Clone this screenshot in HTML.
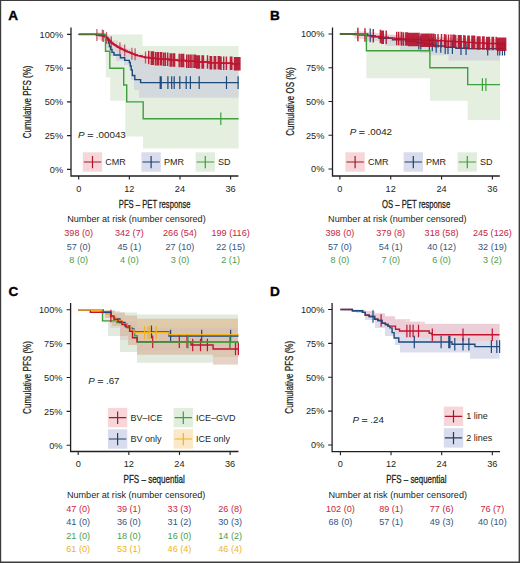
<!DOCTYPE html><html><head><meta charset="utf-8"><style>html,body{margin:0;padding:0;background:#fff}svg{display:block}</style></head><body>
<svg width="520" height="563" viewBox="0 0 520 563" font-family="Liberation Sans, sans-serif">
<rect x="0" y="0" width="520" height="563" fill="#fff"/>
<g id="A">
<polygon points="105.8,34.4 142.5,34.4 142.5,46 238.6,46 238.6,148.5 143,148.5 143,136.5 125.3,136.5 125.3,100.8 110.2,100.8 110.2,77.6 105.8,77.6" fill="#e4efdf" fill-opacity="1.0"/>
<polygon points="104,34.4 108,34.4 108,36 112,36 112,40.5 118,40.5 118,45 124,45 124,48.5 130,48.5 130,52 136,52 136,55 142,55 142,60 148,60 148,64.5 238.6,64.5 238.6,97.8 139,97.8 139,90 134,90 134,80 131,80 131,70 129,70 129,65 124,65 124,61 116,61 116,56 110,56 110,48 107,48 107,38 104,38" fill="#d3d9dc" fill-opacity="1.0"/>
<polygon points="95,33 238.6,33 238.6,36 95,36" fill="#ffffff" fill-opacity="0"/>
<polygon points="95,34.4 96.5,34.4 96.5,31.93 99.5,31.93 99.5,32.47 102.5,32.47 102.5,33 104.5,33 104.5,33.62 105.5,33.62 105.5,34.25 106.5,34.25 106.5,34.88 107.5,34.88 107.5,35.5 108.25,35.5 108.25,36.06 108.75,36.06 108.75,36.62 109.25,36.62 109.25,37.19 109.75,37.19 109.75,37.75 110.25,37.75 110.25,38.31 110.75,38.31 110.75,38.88 111.25,38.88 111.25,39.44 111.75,39.44 111.75,40 112.43,40 112.43,40.57 113.29,40.57 113.29,41.14 114.14,41.14 114.14,41.71 115,41.71 115,42.29 115.86,42.29 115.86,42.86 116.71,42.86 116.71,43.43 117.57,43.43 117.57,44 118.58,44 118.58,44.58 119.75,44.58 119.75,45.17 120.92,45.17 120.92,45.75 122.08,45.75 122.08,46.33 123.25,46.33 123.25,46.92 124.42,46.92 124.42,47.5 125.75,47.5 125.75,48.12 127.25,48.12 127.25,48.75 128.75,48.75 128.75,49.38 130.25,49.38 130.25,50 131.83,50 131.83,50.67 133.5,50.67 133.5,51.33 135.17,51.33 135.17,52 137.25,52 137.25,52.62 139.75,52.62 139.75,53.25 142.25,53.25 142.25,53.88 144.75,53.88 144.75,54.5 149.17,54.5 149.17,55.1 155.5,55.1 155.5,55.7 161.83,55.7 161.83,56.3 169.17,56.3 169.17,56.93 177.5,56.93 177.5,57.57 185.83,57.57 185.83,58.2 196.25,58.2 196.25,58.95 208.75,58.95 208.75,59.7 220.75,59.7 220.75,60.25 232.25,60.25 232.25,60.8 238.6,60.8 238.6,68.3 232.25,68.3 232.25,67.75 220.75,67.75 220.75,67.2 208.75,67.2 208.75,66.45 196.25,66.45 196.25,65.7 185.83,65.7 185.83,65.07 177.5,65.07 177.5,64.43 169.17,64.43 169.17,63.8 161.83,63.8 161.83,63.2 155.5,63.2 155.5,62.6 149.17,62.6 149.17,62 144.75,62 144.75,61.38 142.25,61.38 142.25,60.75 139.75,60.75 139.75,60.12 137.25,60.12 137.25,59.5 135.17,59.5 135.17,58.83 133.5,58.83 133.5,58.17 131.83,58.17 131.83,57.5 130.25,57.5 130.25,56.88 128.75,56.88 128.75,56.25 127.25,56.25 127.25,55.62 125.75,55.62 125.75,55 124.42,55 124.42,54.42 123.25,54.42 123.25,53.83 122.08,53.83 122.08,53.25 120.92,53.25 120.92,52.67 119.75,52.67 119.75,52.08 118.58,52.08 118.58,51.5 117.57,51.5 117.57,50.93 116.71,50.93 116.71,50.36 115.86,50.36 115.86,49.79 115,49.79 115,49.21 114.14,49.21 114.14,48.64 113.29,48.64 113.29,48.07 112.43,48.07 112.43,47.5 111.75,47.5 111.75,46.94 111.25,46.94 111.25,46.38 110.75,46.38 110.75,45.81 110.25,45.81 110.25,45.25 109.75,45.25 109.75,44.69 109.25,44.69 109.25,44.12 108.75,44.12 108.75,43.56 108.25,43.56 108.25,43 107.5,43 107.5,42.38 106.5,42.38 106.5,41.75 105.5,41.75 105.5,41.12 104.5,41.12 104.5,40.5 102.5,40.5 102.5,39.97 99.5,39.97 99.5,39.43 96.5,39.43 96.5,36 95,36" fill="#f0c6cb" fill-opacity="0.6"/>
<path d="M78.7 34.4 H104 V35.6 H106 V37.5 H107.5 V40 H108.5 V43 H109.5 V46.5 H110.5 V49.5 H112 V52.4 H114 V55 H120.4 V57.7 H124.7 V60.4 H129.4 V62.5 H130.3 V66 H131.2 V70 H132.3 V75.5 H134.8 V79.6 H140.6 V82.6 H238.6" fill="none" stroke="#1e4a7c" stroke-width="1.4"/>
<path d="M160.2 76.3 V88.9 M161.2 76.3 V88.9 M167.9 76.3 V88.9 M171.7 76.3 V88.9 M174.2 76.3 V88.9 M179.8 76.3 V88.9 M186.2 76.3 V88.9 M190.4 76.3 V88.9 M199.2 76.3 V88.9 M226.5 76.3 V88.9 M238.1 76.3 V88.9" fill="none" stroke="#1e4a7c" stroke-width="1.2" stroke-opacity="1.0"/>
<path d="M78.7 34.4 H96.5 V34.93 H99.5 V35.47 H102.5 V36 H104.5 V36.62 H105.5 V37.25 H106.5 V37.88 H107.5 V38.5 H108.25 V39.06 H108.75 V39.62 H109.25 V40.19 H109.75 V40.75 H110.25 V41.31 H110.75 V41.88 H111.25 V42.44 H111.75 V43 H112.43 V43.57 H113.29 V44.14 H114.14 V44.71 H115 V45.29 H115.86 V45.86 H116.71 V46.43 H117.57 V47 H118.58 V47.58 H119.75 V48.17 H120.92 V48.75 H122.08 V49.33 H123.25 V49.92 H124.42 V50.5 H125.75 V51.12 H127.25 V51.75 H128.75 V52.38 H130.25 V53 H131.83 V53.67 H133.5 V54.33 H135.17 V55 H137.25 V55.62 H139.75 V56.25 H142.25 V56.88 H144.75 V57.5 H149.17 V58.1 H155.5 V58.7 H161.83 V59.3 H169.17 V59.93 H177.5 V60.57 H185.83 V61.2 H196.25 V61.95 H208.75 V62.7 H220.75 V63.25 H232.25 V63.8 H239.8" fill="none" stroke="#c41230" stroke-width="1.4"/>
<path d="M148.7 50.7 V64.3 M151.3 51.3 V64.9 M152.5 51.3 V64.9 M153.5 51.3 V64.9 M155.6 51.9 V65.5 M157.3 51.9 V65.5 M158.5 51.9 V65.5 M160.5 51.9 V65.5 M161.7 51.9 V65.5 M163.7 52.5 V66.1 M165.4 52.5 V66.1 M167.7 52.5 V66.1 M170.2 53.13 V66.73 M171.7 53.13 V66.73 M173.5 53.13 V66.73 M174.6 53.13 V66.73 M179.2 53.77 V67.37 M181 53.77 V67.37 M182.1 53.77 V67.37 M183.6 53.77 V67.37 M186.7 54.4 V68 M188.5 54.4 V68 M190.2 54.4 V68 M191.9 54.4 V68 M194 54.4 V68 M195.35 54.4 V68 M196.7 55.15 V68.75 M198.05 55.15 V68.75 M199.4 55.15 V68.75 M202.1 55.15 V68.75 M203.45 55.15 V68.75 M207.5 55.15 V68.75 M210.2 55.9 V69.5 M211.55 55.9 V69.5 M214.25 55.9 V69.5 M215.6 55.9 V69.5 M218.3 55.9 V69.5 M219.65 55.9 V69.5 M221 56.45 V70.05 M223.7 56.45 V70.05 M226.4 56.45 V70.05 M230.45 56.45 V70.05 M231.8 56.45 V70.05 M234.5 57 V70.6 M235.85 57 V70.6 M237.2 57 V70.6 M238.55 57 V70.6 M239.9 57 V70.6" fill="none" stroke="#b3112b" stroke-width="1.45" stroke-opacity="0.92"/>
<path d="M78.7 34.4 H96.5 V34.93 H99.5 V35.47 H102.5 V36 H104.5 V36.62 H105.5 V37.25 H106.5 V37.88 H107.5 V38.5 H108.25 V39.06 H108.75 V39.62 H109.25 V40.19 H109.75 V40.75 H110.25 V41.31 H110.75 V41.88 H111.25 V42.44 H111.75 V43 H112.43 V43.57 H113.29 V44.14 H114.14 V44.71 H115 V45.29 H115.86 V45.86 H116.71 V46.43 H117.57 V47 H118.58 V47.58 H119.75 V48.17 H120.92 V48.75 H122.08 V49.33 H123.25 V49.92 H124.42 V50.5 H125.75 V51.12 H127.25 V51.75 H128.75 V52.38 H130.25 V53 H131.83 V53.67 H133.5 V54.33 H135.17 V55 H137.25 V55.62 H139.75 V56.25 H142.25 V56.88 H144.75 V57.5 H149.17 V58.1 H155.5 V58.7 H161.83 V59.3 H169.17 V59.93 H177.5 V60.57 H185.83 V61.2 H196.25 V61.95 H208.75 V62.7 H220.75 V63.25 H232.25 V63.8 H239.8" fill="none" stroke="#c41230" stroke-width="1.4"/>
<path d="M96.9 28.93 V40.93 M102.3 29.47 V41.47 M103.5 30 V42 M106.5 31.88 V43.88 M111.3 36.44 V48.44 M119.9 42.17 V54.17 M124.7 44.5 V56.5 M131.9 47.67 V59.67 M135.1 48.33 V60.33 M145.5 51.5 V63.5" fill="none" stroke="#a51c30" stroke-width="1.2" stroke-opacity="0.7"/>
<path d="M78.7 34.4 H105.5 V51.3 H109.8 V68.2 H123.7 V85 H126.7 V101.9 H143.2 V118.7 H238.6" fill="none" stroke="#3f9f3f" stroke-width="1.4"/>
<path d="M220.8 112.4 V125" fill="none" stroke="#3f9f3f" stroke-width="1.2" stroke-opacity="1.0"/>
<path d="M78.7 34.4 H97 M97 34.4 H104" stroke="#4d7434" stroke-width="1.5" fill="none"/>
<path d="M71 27.6 V176 H238.4" fill="none" stroke="#231f20" stroke-width="1.3"/>
<text x="63.1" y="37.7" font-size="9.2" fill="#231f20" text-anchor="end" >100%</text>
<text x="63.1" y="71.45" font-size="9.2" fill="#231f20" text-anchor="end" >75%</text>
<text x="63.1" y="105.2" font-size="9.2" fill="#231f20" text-anchor="end" >50%</text>
<text x="63.1" y="138.95" font-size="9.2" fill="#231f20" text-anchor="end" >25%</text>
<text x="63.1" y="172.7" font-size="9.2" fill="#231f20" text-anchor="end" >0%</text>
<text x="78.7" y="191.6" font-size="9.2" fill="#231f20" text-anchor="middle" >0</text>
<text x="129.34" y="191.6" font-size="9.2" fill="#231f20" text-anchor="middle" >12</text>
<text x="179.98" y="191.6" font-size="9.2" fill="#231f20" text-anchor="middle" >24</text>
<text x="230.62" y="191.6" font-size="9.2" fill="#231f20" text-anchor="middle" >36</text>
<path d="M67 34.4 H71 M67 68.15 H71 M67 101.9 H71 M67 135.65 H71 M67 169.4 H71 M78.7 176 V179.5 M129.34 176 V179.5 M179.98 176 V179.5 M230.62 176 V179.5" fill="none" stroke="#231f20" stroke-width="1.1"/>
<text transform="translate(31.2 101.9) rotate(-90)" x="0" y="0" font-size="10.4" fill="#231f20" stroke="#231f20" stroke-width="0.25" text-anchor="middle" textLength="72.8" lengthAdjust="spacingAndGlyphs">Cumulative PFS (%)</text>
<rect x="82.8" y="152.3" width="19.4" height="19.4" fill="#f6d6d8"/>
<path d="M83.8 162 H101.2 M92.5 156 V168.3" stroke="#a8172f" stroke-width="1.2" fill="none"/>
<text x="105.3" y="165" font-size="9" fill="#231f20" text-anchor="start" >CMR</text>
<rect x="141.4" y="152.3" width="19.4" height="19.4" fill="#d8dcec"/>
<path d="M142.4 162 H159.8 M151.1 156 V168.3" stroke="#1c406e" stroke-width="1.2" fill="none"/>
<text x="163.9" y="165" font-size="9" fill="#231f20" text-anchor="start" >PMR</text>
<rect x="195.6" y="152.3" width="19.4" height="19.4" fill="#e1eedd"/>
<path d="M196.6 162 H214 M205.3 156 V168.3" stroke="#3f9f3f" stroke-width="1.2" fill="none"/>
<text x="218.1" y="165" font-size="9" fill="#231f20" text-anchor="start" >SD</text>
<text x="78.1" y="138.2" font-size="9.8" fill="#231f20"><tspan font-style="italic">P</tspan> <tspan stroke="#231f20" stroke-width="0.35">=</tspan> .00043</text>
<text x="154.66" y="207.5" font-size="11.4" fill="#231f20" stroke="#231f20" stroke-width="0.3" text-anchor="middle" textLength="71.7" lengthAdjust="spacingAndGlyphs">PFS – PET response</text>
<text x="67.2" y="222.3" font-size="9.1" fill="#231f20" text-anchor="start" >Number at risk (number censored)</text>
<text x="78.7" y="236.3" font-size="9.1" fill="#c81e3e" text-anchor="middle" >398 (0)</text>
<text x="129.34" y="236.3" font-size="9.1" fill="#c81e3e" text-anchor="middle" >342 (7)</text>
<text x="179.98" y="236.3" font-size="9.1" fill="#c81e3e" text-anchor="middle" >266 (54)</text>
<text x="230.62" y="236.3" font-size="9.1" fill="#c81e3e" text-anchor="middle" >199 (116)</text>
<text x="78.7" y="249.8" font-size="9.1" fill="#33557f" text-anchor="middle" >57 (0)</text>
<text x="129.34" y="249.8" font-size="9.1" fill="#33557f" text-anchor="middle" >45 (1)</text>
<text x="179.98" y="249.8" font-size="9.1" fill="#33557f" text-anchor="middle" >27 (10)</text>
<text x="230.62" y="249.8" font-size="9.1" fill="#33557f" text-anchor="middle" >22 (15)</text>
<text x="78.7" y="263.3" font-size="9.1" fill="#4a9e4a" text-anchor="middle" >8 (0)</text>
<text x="129.34" y="263.3" font-size="9.1" fill="#4a9e4a" text-anchor="middle" >4 (0)</text>
<text x="179.98" y="263.3" font-size="9.1" fill="#4a9e4a" text-anchor="middle" >3 (0)</text>
<text x="230.62" y="263.3" font-size="9.1" fill="#4a9e4a" text-anchor="middle" >2 (1)</text>
<text x="8.2" y="19.8" font-size="13.6" font-weight="bold" fill="#000" stroke="#000" stroke-width="0.35">A</text>
</g>
<g id="B">
<polygon points="366.4,35 430,35 430,38 467.7,38 467.7,40 500,40 500,120 467.7,120 467.7,100.8 430,100.8 430,78.3 366.4,78.3" fill="#e4efdf" fill-opacity="1.0"/>
<polygon points="366,35 400,35 400,37 440,37 440,39 500,39 500,60.4 448.5,60.4 448.5,55.3 430,55.3 430,53 420,53 420,50 400,50 400,46 385,46 385,41 366,41" fill="#d3d9dc" fill-opacity="1.0"/>
<polygon points="352,33 354.5,33 354.5,31 359.5,31 359.5,31.5 367,31.5 367,32.3 375.25,32.3 375.25,33.05 381.75,33.05 381.75,33.8 388.25,33.8 388.25,34.4 394.75,34.4 394.75,35 401.5,35 401.5,35.5 408.5,35.5 408.5,36 421,36 421,36.8 435,36.8 435,37.25 445,37.25 445,37.7 455,37.7 455,38.3 465,38.3 465,38.9 475,38.9 475,39.45 485,39.45 485,40 497.5,40 497.5,40.8 505.5,40.8 505.5,48.3 497.5,48.3 497.5,47.5 485,47.5 485,46.95 475,46.95 475,46.4 465,46.4 465,45.8 455,45.8 455,45.2 445,45.2 445,44.75 435,44.75 435,44.3 421,44.3 421,43.5 408.5,43.5 408.5,43 401.5,43 401.5,42.5 394.75,42.5 394.75,41.9 388.25,41.9 388.25,41.3 381.75,41.3 381.75,40.55 375.25,40.55 375.25,39.8 367,39.8 367,39 359.5,39 359.5,38.5 354.5,38.5 354.5,36 352,36" fill="#f0c6cb" fill-opacity="0.75"/>
<path d="M339.9 34 H367.75 V35.4 H371.25 V36.8 H379 V38.3 H392.5 V39.8 H406 V41.2 H416 V42.6 H425 V44.5 H435 V46 H445 V47.2 H456 V48.2 H468.5 V48.6 H505" fill="none" stroke="#1e4a7c" stroke-width="1.4"/>
<path d="M370.2 28.6 V42.2 M418.8 35.8 V49.4 M420.8 35.8 V49.4 M429.4 37.7 V51.3 M432.3 37.7 V51.3 M436.2 39.2 V52.8 M440.8 39.2 V52.8 M445.2 40.4 V54 M448 40.4 V54 M452.4 40.4 V54 M461 41.4 V55 M466.1 41.4 V55 M487.7 41.8 V55.4 M497.7 41.8 V55.4 M499.8 41.8 V55.4 M502.4 41.8 V55.4 M504.6 41.8 V55.4" fill="none" stroke="#1e4a7c" stroke-width="1.2" stroke-opacity="1.0"/>
<path d="M339.9 34 H354.5 V34.5 H359.5 V35 H367 V35.8 H375.25 V36.55 H381.75 V37.3 H388.25 V37.9 H394.75 V38.5 H401.5 V39 H408.5 V39.5 H421 V40.3 H435 V40.75 H445 V41.2 H455 V41.8 H465 V42.4 H475 V42.95 H485 V43.5 H497.5 V44.3 H505.5" fill="none" stroke="#c41230" stroke-width="1.4"/>
<path d="M357.9 27.7 V41.3 M365 28.2 V41.8 M373.3 29 V42.6 M380.4 29.75 V43.35 M381.9 30.5 V44.1 M383.3 30.5 V44.1 M386.2 30.5 V44.1 M396.7 31.7 V45.3 M398.7 31.7 V45.3 M401.2 31.7 V45.3 M401.7 32.2 V45.8 M403.5 32.2 V45.8 M405.8 32.2 V45.8 M406.3 32.2 V45.8 M407.5 32.2 V45.8 M408.8 32.7 V46.3 M409.8 32.7 V46.3 M411.2 32.7 V46.3 M411.5 32.7 V46.3 M412.8 32.7 V46.3 M413 32.7 V46.3 M414.2 32.7 V46.3 M414.5 32.7 V46.3 M415.6 32.7 V46.3 M416 32.7 V46.3 M417 32.7 V46.3 M417.5 32.7 V46.3 M419 32.7 V46.3 M421 33.5 V47.1 M422.5 33.5 V47.1 M423 33.5 V47.1 M424 33.5 V47.1 M424.4 33.5 V47.1 M425.5 33.5 V47.1 M425.8 33.5 V47.1 M427 33.5 V47.1 M427.2 33.5 V47.1 M428.3 33.5 V47.1 M428.5 33.5 V47.1 M430 33.5 V47.1 M431.5 33.5 V47.1 M432 33.5 V47.1 M433.6 33.5 V47.1 M435.2 33.95 V47.55 M438 33.95 V47.55 M441.5 33.95 V47.55 M444.5 33.95 V47.55 M446 34.4 V48 M448.5 34.4 V48 M451 34.4 V48 M453 34.4 V48 M454.35 34.4 V48 M455.7 35 V48.6 M458.4 35 V48.6 M459.75 35 V48.6 M461.1 35 V48.6 M463.8 35 V48.6 M465.15 35.6 V49.2 M467.85 35.6 V49.2 M469.2 35.6 V49.2 M471.9 35.6 V49.2 M473.25 35.6 V49.2 M474.6 35.6 V49.2 M477.3 36.15 V49.75 M478.65 36.15 V49.75 M480 36.15 V49.75 M482.7 36.15 V49.75 M484.05 36.15 V49.75 M486.75 36.7 V50.3 M488.1 36.7 V50.3 M489.45 36.7 V50.3 M492.15 36.7 V50.3 M493.5 36.7 V50.3 M496.2 36.7 V50.3 M497.55 37.5 V51.1 M498.9 37.5 V51.1 M500.25 37.5 V51.1 M501.6 37.5 V51.1 M502.95 37.5 V51.1 M504.3 37.5 V51.1 M505.65 37.5 V51.1" fill="none" stroke="#b3112b" stroke-width="1.45" stroke-opacity="0.92"/>
<path d="M339.9 34 H366.4 V50.8 H429.9 V67.7 H467.7 V84.6 H500" fill="none" stroke="#3f9f3f" stroke-width="1.4"/>
<path d="M482.4 78.3 V90.9 M485.9 78.3 V90.9" fill="none" stroke="#3f9f3f" stroke-width="1.2" stroke-opacity="1.0"/>
<path d="M339.9 34 H357" stroke="#4d6634" stroke-width="1.5" fill="none"/>
<path d="M332.5 27.6 V176 H499.8" fill="none" stroke="#231f20" stroke-width="1.3"/>
<text x="324.4" y="37.3" font-size="9.2" fill="#231f20" text-anchor="end" >100%</text>
<text x="324.4" y="71.05" font-size="9.2" fill="#231f20" text-anchor="end" >75%</text>
<text x="324.4" y="104.8" font-size="9.2" fill="#231f20" text-anchor="end" >50%</text>
<text x="324.4" y="138.55" font-size="9.2" fill="#231f20" text-anchor="end" >25%</text>
<text x="324.4" y="172.3" font-size="9.2" fill="#231f20" text-anchor="end" >0%</text>
<text x="339.9" y="191.6" font-size="9.2" fill="#231f20" text-anchor="middle" >0</text>
<text x="390.73" y="191.6" font-size="9.2" fill="#231f20" text-anchor="middle" >12</text>
<text x="441.56" y="191.6" font-size="9.2" fill="#231f20" text-anchor="middle" >24</text>
<text x="492.4" y="191.6" font-size="9.2" fill="#231f20" text-anchor="middle" >36</text>
<path d="M328.5 34 H332.5 M328.5 67.75 H332.5 M328.5 101.5 H332.5 M328.5 135.25 H332.5 M328.5 169 H332.5 M339.9 176 V179.5 M390.73 176 V179.5 M441.56 176 V179.5 M492.4 176 V179.5" fill="none" stroke="#231f20" stroke-width="1.1"/>
<text transform="translate(294.4 101.5) rotate(-90)" x="0" y="0" font-size="10.4" fill="#231f20" stroke="#231f20" stroke-width="0.25" text-anchor="middle" textLength="68.4" lengthAdjust="spacingAndGlyphs">Cumulative OS (%)</text>
<rect x="345.4" y="152.3" width="19.4" height="19.4" fill="#f6d6d8"/>
<path d="M346.4 162 H363.8 M355.1 156 V168.3" stroke="#a8172f" stroke-width="1.2" fill="none"/>
<text x="367.9" y="165" font-size="9" fill="#231f20" text-anchor="start" >CMR</text>
<rect x="403.6" y="152.3" width="19.4" height="19.4" fill="#d8dcec"/>
<path d="M404.6 162 H422 M413.3 156 V168.3" stroke="#1c406e" stroke-width="1.2" fill="none"/>
<text x="426.1" y="165" font-size="9" fill="#231f20" text-anchor="start" >PMR</text>
<rect x="457.6" y="152.3" width="19.4" height="19.4" fill="#e1eedd"/>
<path d="M458.6 162 H476 M467.3 156 V168.3" stroke="#3f9f3f" stroke-width="1.2" fill="none"/>
<text x="480.1" y="165" font-size="9" fill="#231f20" text-anchor="start" >SD</text>
<text x="349.8" y="135" font-size="9.8" fill="#231f20"><tspan font-style="italic">P</tspan> <tspan stroke="#231f20" stroke-width="0.35">=</tspan> .0042</text>
<text x="416.15" y="207.5" font-size="11.4" fill="#231f20" stroke="#231f20" stroke-width="0.3" text-anchor="middle" textLength="68.1" lengthAdjust="spacingAndGlyphs">OS – PET response</text>
<text x="328.1" y="222.3" font-size="9.1" fill="#231f20" text-anchor="start" >Number at risk (number censored)</text>
<text x="339.9" y="236.3" font-size="9.1" fill="#c81e3e" text-anchor="middle" >398 (0)</text>
<text x="390.73" y="236.3" font-size="9.1" fill="#c81e3e" text-anchor="middle" >379 (8)</text>
<text x="441.56" y="236.3" font-size="9.1" fill="#c81e3e" text-anchor="middle" >318 (58)</text>
<text x="492.4" y="236.3" font-size="9.1" fill="#c81e3e" text-anchor="middle" >245 (126)</text>
<text x="339.9" y="249.8" font-size="9.1" fill="#33557f" text-anchor="middle" >57 (0)</text>
<text x="390.73" y="249.8" font-size="9.1" fill="#33557f" text-anchor="middle" >54 (1)</text>
<text x="441.56" y="249.8" font-size="9.1" fill="#33557f" text-anchor="middle" >40 (12)</text>
<text x="492.4" y="249.8" font-size="9.1" fill="#33557f" text-anchor="middle" >32 (19)</text>
<text x="339.9" y="263.3" font-size="9.1" fill="#4a9e4a" text-anchor="middle" >8 (0)</text>
<text x="390.73" y="263.3" font-size="9.1" fill="#4a9e4a" text-anchor="middle" >7 (0)</text>
<text x="441.56" y="263.3" font-size="9.1" fill="#4a9e4a" text-anchor="middle" >6 (0)</text>
<text x="492.4" y="263.3" font-size="9.1" fill="#4a9e4a" text-anchor="middle" >3 (2)</text>
<text x="270" y="19.8" font-size="13.6" font-weight="bold" fill="#000" stroke="#000" stroke-width="0.35">B</text>
</g>
<g id="C">
<polygon points="102,310 110,310 110,311 120,311 120,312.5 137,312.5 137,314.4 238,314.4 238,362.8 137,362.8 137,352 120,352 120,336 108,336 108,322 102,322" fill="#e2e9df" fill-opacity="1.0"/>
<polygon points="105,310.5 115,310.5 115,312.5 125,312.5 125,315.5 137,315.5 137,318.7 238,318.7 238,357 213,357 213,354.8 137,354.8 137,345 128,345 128,336 120,336 120,326 112,326 112,318 105,318" fill="#dcc8b2" fill-opacity="1.0"/>
<polygon points="213,357 238,357 238,364.6 213,364.6" fill="#e5d3c8" fill-opacity="1.0"/>
<polygon points="110,316 120,316 120,322 137,322 137,328 238,328 238,351 137,351 137,340 120,340 120,328 110,328" fill="#d9b9b0" fill-opacity="0.35"/>
<polygon points="137,319.5 238,319.5 238,327 137,327" fill="#e6cf9c" fill-opacity="0.35"/>
<path d="M78.2 309.8 H102.5 V320.9 H116.7 V322.5 H122 V324 H127.3 V327.8 H132.1 V331.5 H134.7 V335.7 H137.1 V342 H238.5" fill="none" stroke="#3f9f3f" stroke-width="1.4"/>
<path d="M187.8 335.7 V348.3 M229.9 335.7 V348.3" fill="none" stroke="#3f9f3f" stroke-width="1.2" stroke-opacity="1.0"/>
<path d="M78.2 309.8 H103 V312.4 H110.9 V316.6 H115 V319 H120 V322.5 H125 V326 H130 V329 H134 V331.9 H169 V336 H238.5" fill="none" stroke="#1e4a7c" stroke-width="1.4"/>
<path d="M151.5 325.6 V338.2 M170.6 329.7 V342.3 M201.7 329.7 V342.3 M230.6 329.7 V342.3" fill="none" stroke="#1e4a7c" stroke-width="1.2" stroke-opacity="1.0"/>
<path d="M78.2 309.8 H90.3 V310.6 H101 V312.2 H106 V314 H110 V316.5 H116 V320.5 H122 V324 H127 V327 H131 V330 H134 V332.6 H169 V334.6 H238.5" fill="none" stroke="#f0b323" stroke-width="1.4"/>
<path d="M144.6 326.3 V338.9 M148 326.3 V338.9 M149.8 326.3 V338.9 M156.2 326.3 V338.9" fill="none" stroke="#f0b323" stroke-width="1.2" stroke-opacity="1.0"/>
<path d="M78.2 309.8 H90.3 V312.2 H110.9 V316 H114 V319.5 H118 V321.5 H122 V324.5 H126 V327 H129.6 V331.3 H132.5 V337.7 H137.1 V341.8 H191 V345 H213.1 V349 H238.5" fill="none" stroke="#c41230" stroke-width="1.4"/>
<path d="M110.9 309.7 V322.3 M152.7 335.5 V348.1 M179.3 335.5 V348.1 M187 335.5 V348.1 M192.7 338.7 V351.3 M200.5 338.7 V351.3 M207.4 338.7 V351.3 M235.5 342.7 V355.3 M238.4 342.7 V355.3" fill="none" stroke="#c41230" stroke-width="1.2" stroke-opacity="1.0"/>
<path d="M78.2 309.8 H103" stroke="#f0b323" stroke-width="1.4" fill="none"/>
<path d="M103 312.4 H110.9" stroke="#1e4a7c" stroke-width="1.4" fill="none"/>
<path d="M137.1 342 H238.5" stroke="#3f9f3f" stroke-width="1.4" fill="none"/>
<path d="M187.8 335.7 V348.3 M229.9 335.7 V348.3" stroke="#3f9f3f" stroke-width="1.2" fill="none"/>
<path d="M70.6 303.1 V451.5 H238.5" fill="none" stroke="#231f20" stroke-width="1.3"/>
<text x="62.5" y="313.1" font-size="9.2" fill="#231f20" text-anchor="end" >100%</text>
<text x="62.5" y="346.95" font-size="9.2" fill="#231f20" text-anchor="end" >75%</text>
<text x="62.5" y="380.8" font-size="9.2" fill="#231f20" text-anchor="end" >50%</text>
<text x="62.5" y="414.65" font-size="9.2" fill="#231f20" text-anchor="end" >25%</text>
<text x="62.5" y="448.5" font-size="9.2" fill="#231f20" text-anchor="end" >0%</text>
<text x="78.2" y="467.1" font-size="9.2" fill="#231f20" text-anchor="middle" >0</text>
<text x="128.84" y="467.1" font-size="9.2" fill="#231f20" text-anchor="middle" >12</text>
<text x="179.48" y="467.1" font-size="9.2" fill="#231f20" text-anchor="middle" >24</text>
<text x="230.12" y="467.1" font-size="9.2" fill="#231f20" text-anchor="middle" >36</text>
<path d="M66.6 309.8 H70.6 M66.6 343.65 H70.6 M66.6 377.5 H70.6 M66.6 411.35 H70.6 M66.6 445.2 H70.6 M78.2 451.5 V455 M128.84 451.5 V455 M179.48 451.5 V455 M230.12 451.5 V455" fill="none" stroke="#231f20" stroke-width="1.1"/>
<text transform="translate(31 377.5) rotate(-90)" x="0" y="0" font-size="10.4" fill="#231f20" stroke="#231f20" stroke-width="0.25" text-anchor="middle" textLength="72.8" lengthAdjust="spacingAndGlyphs">Cumulative PFS (%)</text>
<rect x="107.9" y="407.9" width="19.4" height="19.4" fill="#f6d6d8"/>
<path d="M108.9 417.6 H126.3 M117.6 411.6 V423.9" stroke="#a8172f" stroke-width="1.2" fill="none"/>
<text x="130.4" y="420.6" font-size="9" fill="#231f20" text-anchor="start" >BV–ICE</text>
<rect x="107.9" y="429.3" width="19.4" height="19.4" fill="#d8dcec"/>
<path d="M108.9 439 H126.3 M117.6 433 V445.3" stroke="#1c406e" stroke-width="1.2" fill="none"/>
<text x="130.4" y="442" font-size="9" fill="#231f20" text-anchor="start" >BV only</text>
<rect x="173.6" y="407.9" width="19.4" height="19.4" fill="#e1eedd"/>
<path d="M174.6 417.6 H192 M183.3 411.6 V423.9" stroke="#3f9f3f" stroke-width="1.2" fill="none"/>
<text x="196.1" y="420.6" font-size="9" fill="#231f20" text-anchor="start" >ICE–GVD</text>
<rect x="173.6" y="429.3" width="19.4" height="19.4" fill="#fbe8c6"/>
<path d="M174.6 439 H192 M183.3 433 V445.3" stroke="#f0b323" stroke-width="1.2" fill="none"/>
<text x="196.1" y="442" font-size="9" fill="#231f20" text-anchor="start" >ICE only</text>
<text x="88.2" y="383.75" font-size="9.8" fill="#231f20"><tspan font-style="italic">P</tspan> <tspan stroke="#231f20" stroke-width="0.35">=</tspan> .67</text>
<text x="154.16" y="483.3" font-size="11.4" fill="#231f20" stroke="#231f20" stroke-width="0.3" text-anchor="middle" textLength="61.1" lengthAdjust="spacingAndGlyphs">PFS – sequential</text>
<text x="66.9" y="497.9" font-size="9.1" fill="#231f20" text-anchor="start" >Number at risk (number censored)</text>
<text x="78.2" y="511.9" font-size="9.1" fill="#c81e3e" text-anchor="middle" >47 (0)</text>
<text x="128.84" y="511.9" font-size="9.1" fill="#c81e3e" text-anchor="middle" >39 (1)</text>
<text x="179.48" y="511.9" font-size="9.1" fill="#c81e3e" text-anchor="middle" >33 (3)</text>
<text x="230.12" y="511.9" font-size="9.1" fill="#c81e3e" text-anchor="middle" >26 (8)</text>
<text x="78.2" y="525.4" font-size="9.1" fill="#33557f" text-anchor="middle" >41 (0)</text>
<text x="128.84" y="525.4" font-size="9.1" fill="#33557f" text-anchor="middle" >36 (0)</text>
<text x="179.48" y="525.4" font-size="9.1" fill="#33557f" text-anchor="middle" >31 (2)</text>
<text x="230.12" y="525.4" font-size="9.1" fill="#33557f" text-anchor="middle" >30 (3)</text>
<text x="78.2" y="538.9" font-size="9.1" fill="#4a9e4a" text-anchor="middle" >21 (0)</text>
<text x="128.84" y="538.9" font-size="9.1" fill="#4a9e4a" text-anchor="middle" >18 (0)</text>
<text x="179.48" y="538.9" font-size="9.1" fill="#4a9e4a" text-anchor="middle" >16 (0)</text>
<text x="230.12" y="538.9" font-size="9.1" fill="#4a9e4a" text-anchor="middle" >14 (2)</text>
<text x="78.2" y="552.4" font-size="9.1" fill="#eeb32a" text-anchor="middle" >61 (0)</text>
<text x="128.84" y="552.4" font-size="9.1" fill="#eeb32a" text-anchor="middle" >53 (1)</text>
<text x="179.48" y="552.4" font-size="9.1" fill="#eeb32a" text-anchor="middle" >46 (4)</text>
<text x="230.12" y="552.4" font-size="9.1" fill="#eeb32a" text-anchor="middle" >46 (4)</text>
<text x="8.5" y="295.8" font-size="13.6" font-weight="bold" fill="#000" stroke="#000" stroke-width="0.35">C</text>
</g>
<g id="D">
<polygon points="356,310 365,310 365,311.5 375,311.5 375,314 385,314 385,317 395,317 395,320 405,320 405,322 420,322 420,324 499.5,324 499.5,358.7 470,358.7 470,352.4 400,352.4 400,345 395,345 395,336 385,336 385,328 375,328 375,320 365,320 365,313 356,313" fill="#dcdeed" fill-opacity="1.0"/>
<polygon points="352,309.5 365,309.5 365,311 375,311 375,313 385,313 385,316 395,316 395,319 410,319 410,321.5 425,321.5 425,323.8 499.5,323.8 499.5,341 430,341 430,338 405,338 405,334 395,334 395,328 385,328 385,322 375,322 375,317 365,317 365,312 352,312" fill="#f2c8cd" fill-opacity="0.7"/>
<path d="M340.4 309.5 H352.4 V310.8 H362.5 V312.4 H365.2 V315.1 H369.2 V316.5 H374.6 V319.2 H378 V320.5 H382 V323.2 H385.4 V324.5 H388 V326.1 H395.5 V329.2 H399.5 V331 H429.2 V333.2 H432 V334.8 H499.5" fill="none" stroke="#c41230" stroke-width="1.4"/>
<path d="M381.1 314.2 V326.8 M406.9 324.7 V337.3 M410 324.7 V337.3 M413.1 324.7 V337.3 M418.5 324.7 V337.3 M432.3 328.5 V341.1 M463 328.5 V341.1 M492.3 328.5 V341.1" fill="none" stroke="#c41230" stroke-width="1.2" stroke-opacity="1.0"/>
<path d="M340.4 309.5 H352.4 V310.8 H362.5 V312.4 H365.2 V315.1 H369.2 V316.5 H374.6 V319.2 H378 V320.5 H382 V323.2 H385.4 V324.5 H388 V326.1 H390 V327.9 H392.1 V332.6 H394.1 V338 H398.8 V342 H452 V344.2 H474.9 V346.6 H499.5" fill="none" stroke="#1e4a7c" stroke-width="1.4"/>
<path d="M373 310.2 V322.8 M414.3 335.7 V348.3 M441.1 335.7 V348.3 M448.8 335.7 V348.3 M449.9 335.7 V348.3 M454.8 337.9 V350.5 M463 337.9 V350.5 M468.9 337.9 V350.5 M491.4 340.3 V352.9 M496.8 340.3 V352.9 M499.6 340.3 V352.9" fill="none" stroke="#1e4a7c" stroke-width="1.2" stroke-opacity="1.0"/>
<path d="M332.1 303.1 V451.7 H500" fill="none" stroke="#231f20" stroke-width="1.3"/>
<text x="324.4" y="312.8" font-size="9.2" fill="#231f20" text-anchor="end" >100%</text>
<text x="324.4" y="346.68" font-size="9.2" fill="#231f20" text-anchor="end" >75%</text>
<text x="324.4" y="380.55" font-size="9.2" fill="#231f20" text-anchor="end" >50%</text>
<text x="324.4" y="414.43" font-size="9.2" fill="#231f20" text-anchor="end" >25%</text>
<text x="324.4" y="448.3" font-size="9.2" fill="#231f20" text-anchor="end" >0%</text>
<text x="340.4" y="467.3" font-size="9.2" fill="#231f20" text-anchor="middle" >0</text>
<text x="391.04" y="467.3" font-size="9.2" fill="#231f20" text-anchor="middle" >12</text>
<text x="441.68" y="467.3" font-size="9.2" fill="#231f20" text-anchor="middle" >24</text>
<text x="492.32" y="467.3" font-size="9.2" fill="#231f20" text-anchor="middle" >36</text>
<path d="M328.1 309.5 H332.1 M328.1 343.38 H332.1 M328.1 377.25 H332.1 M328.1 411.12 H332.1 M328.1 445 H332.1 M340.4 451.7 V455.2 M391.04 451.7 V455.2 M441.68 451.7 V455.2 M492.32 451.7 V455.2" fill="none" stroke="#231f20" stroke-width="1.1"/>
<text transform="translate(292.5 377.25) rotate(-90)" x="0" y="0" font-size="10.4" fill="#231f20" stroke="#231f20" stroke-width="0.25" text-anchor="middle" textLength="72.8" lengthAdjust="spacingAndGlyphs">Cumulative PFS (%)</text>
<rect x="443.8" y="406.6" width="19.4" height="19.4" fill="#f6d6d8"/>
<path d="M444.8 416.3 H462.2 M453.5 410.3 V422.6" stroke="#a8172f" stroke-width="1.2" fill="none"/>
<text x="466.3" y="419.3" font-size="9" fill="#231f20" text-anchor="start" >1 line</text>
<rect x="443.8" y="428.2" width="19.4" height="19.4" fill="#d8dcec"/>
<path d="M444.8 437.9 H462.2 M453.5 431.9 V444.2" stroke="#1c406e" stroke-width="1.2" fill="none"/>
<text x="466.3" y="440.9" font-size="9" fill="#231f20" text-anchor="start" >2 lines</text>
<text x="352.5" y="422.5" font-size="9.8" fill="#231f20"><tspan font-style="italic">P</tspan> <tspan stroke="#231f20" stroke-width="0.35">=</tspan> .24</text>
<text x="416.36" y="483.3" font-size="11.4" fill="#231f20" stroke="#231f20" stroke-width="0.3" text-anchor="middle" textLength="60.2" lengthAdjust="spacingAndGlyphs">PFS – sequential</text>
<text x="328.5" y="497.9" font-size="9.1" fill="#231f20" text-anchor="start" >Number at risk (number censored)</text>
<text x="340.4" y="511.9" font-size="9.1" fill="#c81e3e" text-anchor="middle" >102 (0)</text>
<text x="391.04" y="511.9" font-size="9.1" fill="#c81e3e" text-anchor="middle" >89 (1)</text>
<text x="441.68" y="511.9" font-size="9.1" fill="#c81e3e" text-anchor="middle" >77 (6)</text>
<text x="492.32" y="511.9" font-size="9.1" fill="#c81e3e" text-anchor="middle" >76 (7)</text>
<text x="340.4" y="525.4" font-size="9.1" fill="#33557f" text-anchor="middle" >68 (0)</text>
<text x="391.04" y="525.4" font-size="9.1" fill="#33557f" text-anchor="middle" >57 (1)</text>
<text x="441.68" y="525.4" font-size="9.1" fill="#33557f" text-anchor="middle" >49 (3)</text>
<text x="492.32" y="525.4" font-size="9.1" fill="#33557f" text-anchor="middle" >40 (10)</text>
<text x="270" y="295.8" font-size="13.6" font-weight="bold" fill="#000" stroke="#000" stroke-width="0.35">D</text>
</g>
<path d="M0 0 H520 V563 H0 Z M1.2 1 V561.5 H518.6 V1 Z" fill="#3d3d3d" fill-rule="evenodd"/>
</svg></body></html>
